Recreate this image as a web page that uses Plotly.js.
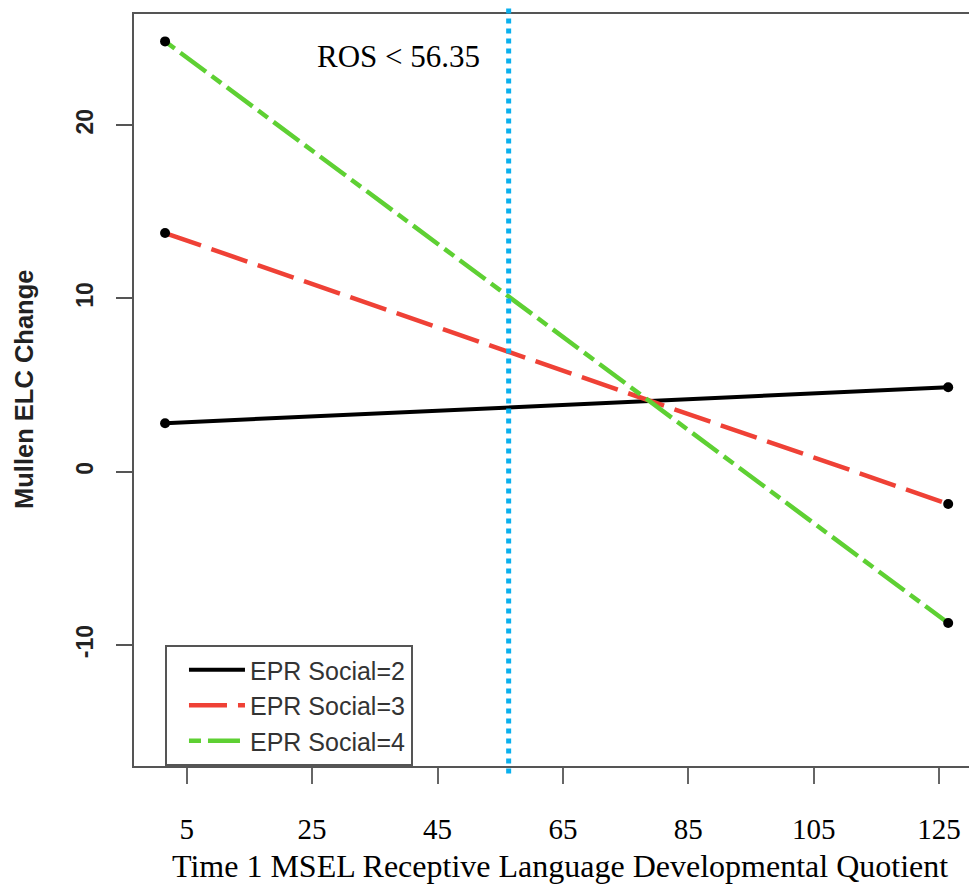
<!DOCTYPE html>
<html>
<head>
<meta charset="utf-8">
<script src="https://cdn.plot.ly/plotly-3.0.1.min.js"></script>
<style>html,body{margin:0;padding:0;background:#fff;}#chart{width:969px;height:892px;}</style>
</head>
<body>
<div id="chart"></div>
<script>
// ---- data ----
const seriesNames = ["EPR Social=2", "EPR Social=3", "EPR Social=4"];
const xEnds = [1.55, 126.45];
const ySocial2 = [2.8, 4.87];
const ySocial3 = [13.77, -1.86];
const ySocial4 = [24.83, -8.73];
const xTickVals = [5, 25, 45, 65, 85, 105, 125];
const xTickText = ["5", "25", "45", "65", "85", "105", "125"];
const yTickVals = [-10, 0, 10, 20];
const yTickText = ["-10", "0", "10", "20"];
const rosThreshold = 56.35;
const rosLabel = "ROS < 56.35";
const xTitle = "Time 1 MSEL Receptive Language Developmental Quotient";
const yTitle = "Mullen ELC Change";

const seriesY = [ySocial2, ySocial3, ySocial4];
const colors = ["#000000", "#EF4136", "#5ED033"];
const dashes = ["solid", "38px,11px", "12px,7px,32px,7px"];
const widths = [4, 4.5, 4.5];

const traces = [];
seriesY.forEach((ys, i) => {
  traces.push({
    x: xEnds, y: ys, type: "scatter", mode: "lines",
    name: seriesNames[i],
    line: {color: colors[i], width: widths[i], dash: dashes[i]},
    hoverinfo: "skip"
  });
});
seriesY.forEach((ys, i) => {
  traces.push({
    x: xEnds, y: ys, type: "scatter", mode: "markers",
    showlegend: false,
    marker: {color: "#000", size: 10},
    hoverinfo: "skip"
  });
});

const serif = "Liberation Serif, Times New Roman, serif";
const sans = "Liberation Sans, Arial, sans-serif";

const layout = {
  width: 969, height: 892,
  margin: {l: 134, r: 0, t: 14, b: 126},
  paper_bgcolor: "#fff", plot_bgcolor: "#fff",
  showlegend: true,
  xaxis: {
    range: [-3.405, 129.77],
    tickvals: xTickVals, ticktext: xTickText,
    ticks: "outside", ticklen: 16, tickwidth: 2, tickcolor: "#666",
    showline: true, linecolor: "#555", linewidth: 2, mirror: true,
    showgrid: false, zeroline: false,
    tickfont: {family: serif, size: 29, color: "#000"},
    ticklabelstandoff: 20
  },
  yaxis: {
    range: [-16.98, 26.41],
    tickvals: yTickVals, ticktext: yTickText,
    ticks: "outside", ticklen: 16, tickwidth: 2, tickcolor: "#555",
    showline: true, linecolor: "#555", linewidth: 2, mirror: false,
    showgrid: false, zeroline: false,
    tickangle: -90,
    tickfont: {family: sans, size: 23, color: "#222", weight: "bold"},
    ticklabelstandoff: 14
  },
  legend: {
    x: 0.0371, y: 0, xanchor: "left", yanchor: "bottom",
    bgcolor: "#fff", bordercolor: "#555", borderwidth: 2,
    font: {family: sans, size: 25, color: "#333"},
    itemwidth: 56, tracegroupgap: 0, indentation: 17
  },
  shapes: [{
    type: "line", xref: "x", yref: "paper",
    x0: rosThreshold, x1: rosThreshold, y0: -0.01, y1: 1.013,
    line: {color: "#0AB0EE", width: 5, dash: "5px,5px"}
  }],
  annotations: [
    {text: rosLabel, xref: "x", yref: "paper", x: rosThreshold, y: 0.944,
     xanchor: "right", yanchor: "middle", xshift: -27, showarrow: false,
     font: {family: serif, size: 31, color: "#000"}},
    {text: xTitle, xref: "paper", yref: "paper", x: 0.5, y: 0, xshift: 8,
     yanchor: "middle", yshift: -100, showarrow: false,
     font: {family: serif, size: 32, color: "#000"}},
    {text: yTitle, xref: "paper", yref: "paper", x: 0, y: 0.5, xshift: -110,
     xanchor: "center", yanchor: "middle", textangle: -90, showarrow: false,
     font: {family: sans, size: 25.5, color: "#222", weight: "bold"}}
  ]
};

Plotly.newPlot("chart", traces, layout, {displayModeBar: false, staticPlot: true});
</script>
</body>
</html>
